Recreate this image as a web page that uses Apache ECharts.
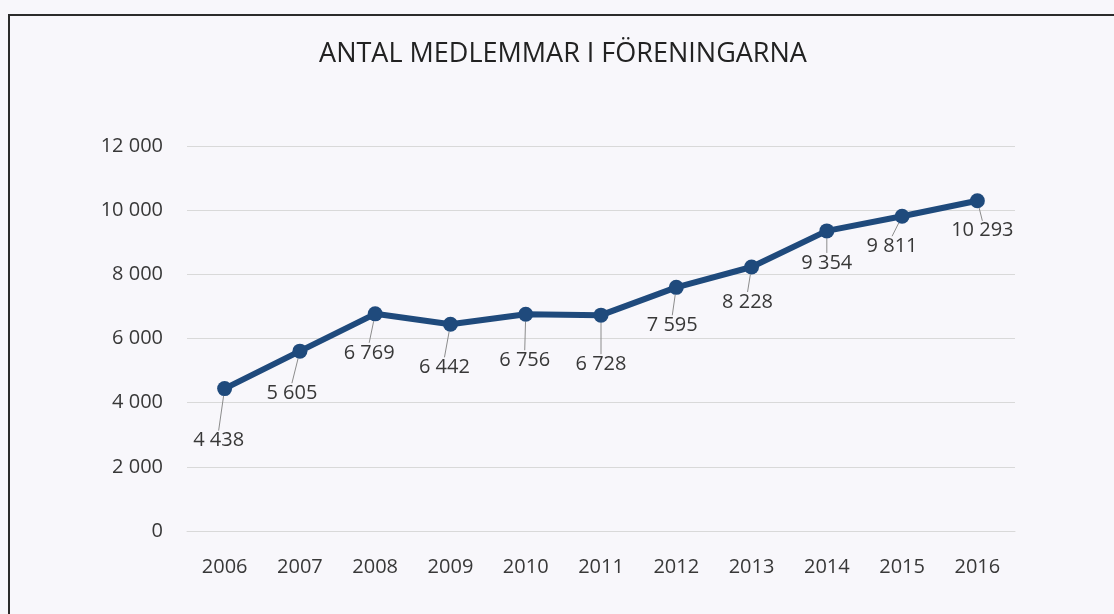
<!DOCTYPE html>
<html>
<head>
    <meta charset="utf-8">
    <title>Antal medlemmar</title>
    <script src="https://cdn.jsdelivr.net/npm/echarts@6/dist/echarts.min.js"></script>
    <style>
        html, body { margin: 0; padding: 0; background: #f8f7fb; }
    </style>
</head>
<body>
    <div id="main" style="width: 1114px;height:614px;"></div>
    <script type="text/javascript">
        // data
        var years = ['2006', '2007', '2008', '2009', '2010', '2011', '2012', '2013', '2014', '2015', '2016'];
        var members = [4438, 5605, 6769, 6442, 6756, 6728, 7595, 8228, 9354, 9811, 10293];
        var yTicks = [0, 2000, 4000, 6000, 8000, 10000, 12000];

        // where each value label sits relative to its point (px)
        var labelShift = [[-6, 52], [-8, 42], [-6, 39], [-6, 43], [-1, 46], [0, 49],
                          [-4, 38], [-4, 35], [0, 32], [-10, 30], [5, 30]];

        function spaced(v) {
            return String(v).replace(/\B(?=(\d{3})+(?!\d))/g, ' ');
        }

        var textColor = '#383838';
        var font = '"Open Sans", sans-serif';

        var myChart = echarts.init(document.getElementById('main'));

        var option = {
            backgroundColor: '#f8f7fb',
            title: {
                text: 'ANTAL MEDLEMMAR I FÖRENINGARNA',
                left: 558,
                top: 36,
                textAlign: 'center',
                textStyle: { fontFamily: font, fontSize: 27, fontWeight: 'normal', color: '#222222' }
            },
            graphic: [{
                type: 'rect',
                shape: { x: 9, y: 15, width: 1200, height: 700 },
                style: { fill: 'none', stroke: '#2b2b2b', lineWidth: 2 },
                silent: true
            }],
            grid: { left: 187, right: 99, top: 146, bottom: 83 },
            xAxis: {
                type: 'category',
                data: years,
                boundaryGap: true,
                axisLine: { show: true, lineStyle: { color: '#d9d9d9', width: 1 } },
                axisTick: { show: false },
                axisLabel: { color: textColor, fontFamily: font, fontSize: 20, margin: 26 }
            },
            yAxis: {
                type: 'value',
                min: yTicks[0],
                max: yTicks[yTicks.length - 1],
                interval: yTicks[1] - yTicks[0],
                axisLine: { show: false },
                axisTick: { show: false },
                splitLine: { lineStyle: { color: '#d9d9d9', width: 1 } },
                axisLabel: {
                    color: textColor, fontFamily: font, fontSize: 20, margin: 24,
                    formatter: function (v) { return spaced(v); }
                }
            },
            series: [{
                name: 'Antal medlemmar',
                type: 'line',
                data: members,
                symbol: 'circle',
                symbolSize: 15,
                lineStyle: { color: '#1f4a7c', width: 6 },
                itemStyle: { color: '#1f4a7c' },
                label: {
                    show: true,
                    position: 'inside',
                    color: textColor,
                    fontFamily: font,
                    fontSize: 20,
                    formatter: function (p) { return spaced(p.value); }
                },
                labelLine: {
                    show: true,
                    length2: 0,
                    lineStyle: { color: '#8c8c8c', width: 1 }
                },
                labelLayout: function (params) {
                    var s = labelShift[params.dataIndex];
                    return { dx: s[0], dy: s[1] };
                },
                animation: false
            }],
            animation: false
        };

        myChart.setOption(option);
    </script>
</body>
</html>
